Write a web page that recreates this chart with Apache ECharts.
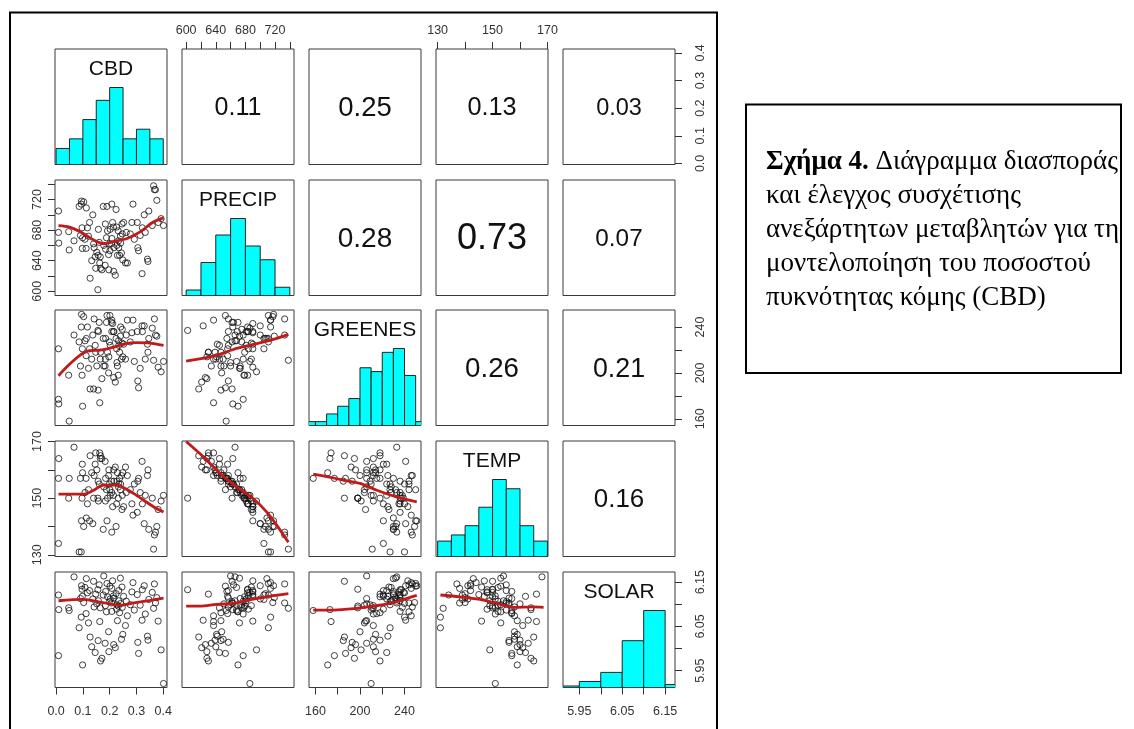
<!DOCTYPE html>
<html>
<head>
<meta charset="utf-8">
<script src="https://cdn.jsdelivr.net/npm/echarts@6/dist/echarts.min.js"></script>
<style>
html, body { margin: 0; padding: 0; background: #fff; }
#chart { width: 1134px; height: 729px; }
</style>
</head>
<body>
<div id="chart"></div>
<script>
// ---- observations (one entry per site) ----
const varNames = ['CBD', 'PRECIP', 'GREENES', 'TEMP', 'SOLAR'];

const cbd = [
  0.009, 0.009, 0.010, 0.047, 0.049,
  0.067, 0.086, 0.094, 0.091, 0.097, 0.099, 0.098, 0.095,
  0.103, 0.108, 0.112, 0.117, 0.121, 0.125, 0.127, 0.133, 0.137, 0.140, 0.142, 0.146, 0.148, 0.113,
  0.152, 0.157, 0.156, 0.158, 0.161, 0.163, 0.165, 0.166, 0.171, 0.176, 0.178, 0.184, 0.183, 0.185, 0.188, 0.190, 0.192, 0.196, 0.197, 0.199,
  0.201, 0.202, 0.207, 0.208, 0.208, 0.211, 0.214, 0.215, 0.216, 0.221, 0.224, 0.226, 0.227, 0.229, 0.232, 0.233, 0.234, 0.237, 0.240, 0.241, 0.244, 0.246, 0.247, 0.249,
  0.252, 0.259, 0.262, 0.266, 0.277, 0.283, 0.287, 0.292,
  0.303, 0.305, 0.308, 0.314, 0.321, 0.322, 0.329, 0.333, 0.341, 0.343, 0.346,
  0.359, 0.364, 0.367, 0.371, 0.376, 0.381, 0.392, 0.401
];
const precip = [
  705, 677, 663, 678, 654,
  666, 711, 714, 673, 683, 670, 656, 718,
  717, 668, 656, 683, 672, 690, 617, 640, 700, 662, 657, 645, 630, 709,
  651, 647, 602, 681, 664, 637, 645, 630, 628, 711, 660, 688, 634, 655, 670, 711, 679, 648, 628, 662,
  653, 681, 662, 669, 714, 690, 684, 626, 657, 621, 707, 684, 660, 647, 679, 666, 657, 647, 672, 663, 650, 688, 675, 641,
  690, 637, 677, 637, 675, 690, 714, 668,
  690, 657, 653, 673, 623, 683, 700, 677, 642, 639, 705,
  686, 738, 733, 733, 719, 690, 695, 686
];
const greenes = [
  221, 177, 173, 198, 158,
  233, 227, 240, 206, 198, 171, 221, 251,
  249, 228, 215, 240, 204, 221, 186, 212, 233, 186, 247, 224, 218, 230,
  206, 185, 237, 236, 244, 174, 212, 218, 195, 230, 206, 212, 206, 230, 244, 250, 218, 200, 214, 227,
  250, 224, 244, 236, 246, 243, 236, 196, 236, 192, 230, 221, 209, 206, 198, 228, 224, 218, 232, 240, 212, 226, 238, 214,
  225, 212, 233, 246, 227, 235, 246, 210,
  236, 193, 187, 204, 241, 236, 241, 212, 225, 218, 230,
  239, 211, 247, 233, 232, 205, 201, 210
];
const temp = [
  134, 157, 164, 150, 157,
  168, 131, 131, 157, 150, 159, 162, 142,
  140, 152, 157, 148, 153, 142, 165, 159, 141, 150, 158, 162, 166, 143,
  160, 156, 150, 149, 155, 166, 164, 165, 164, 139, 154, 149, 163, 157, 153, 142, 150, 158, 160, 155,
  153, 151, 156, 152, 138, 147, 151, 160, 156, 161, 140, 148, 156, 159, 150, 154, 155, 157, 153, 155, 158, 146, 151, 159,
  147, 161, 152, 158, 153, 148, 144, 155,
  145, 156, 157, 152, 163, 148, 141, 151, 158, 160, 139,
  150, 132, 137, 138, 140, 146, 149, 151
];
const solar = [
  6.121, 5.984, 6.088, 6.092, 6.086,
  6.162, 6.047, 6.071, 6.113, 6.134, 5.963, 6.118, 6.142,
  6.104, 6.138, 6.079, 6.126, 6.058, 6.131, 6.026, 6.004, 6.112, 6.152, 6.094, 5.991, 6.123, 6.158,
  6.101, 6.018, 6.133, 6.108, 6.144, 6.061, 6.092, 5.972, 5.978, 6.121, 6.164, 6.097, 6.012, 6.129, 6.083, 6.147, 6.117, 6.038, 5.993, 6.106,
  6.141, 6.112, 6.103, 6.084, 6.136, 6.153, 6.119, 6.009, 6.114, 6.002, 6.124, 6.089, 6.099, 6.063, 6.096, 6.108, 6.131, 6.081, 6.159, 6.102, 6.021, 6.139, 6.093, 6.032,
  6.118, 6.052, 6.107, 6.074, 6.099, 6.128, 6.149, 6.087,
  6.122, 6.014, 5.989, 6.098, 6.064, 6.133, 6.142, 6.078, 6.028, 6.019, 6.111,
  6.127, 6.091, 6.146, 6.103, 6.115, 6.062, 5.997, 5.921
];

// ---- histogram bins (breaks and counts) ----
const cbdBreaks = [0, 0.05, 0.10, 0.15, 0.20, 0.25, 0.30, 0.35, 0.40];
const cbdCounts = [5, 8, 14, 20, 24, 8, 11, 8];
const precipBreaks = [600, 620, 640, 660, 680, 700, 720, 740];
const precipCounts = [2, 12, 22, 28, 18, 13, 3];
const greenesBreaks = [150, 160, 170, 180, 190, 200, 210, 220, 230, 240, 250, 260];
const greenesCounts = [1, 1, 3, 5, 7, 15, 14, 19, 20, 13, 1];
const tempBreaks = [130, 135, 140, 145, 150, 155, 160, 165, 170];
const tempCounts = [5, 7, 10, 16, 25, 22, 10, 5];
const solarBreaks = [5.90, 5.95, 6.00, 6.05, 6.10, 6.15, 6.20];
const solarCounts = [1, 4, 10, 31, 51, 2];

// ---- absolute correlations shown in the upper panels (row, column, value) ----
const corrRows = [0, 0, 0, 0, 1, 1, 1, 2, 2, 3];
const corrCols = [1, 2, 3, 4, 2, 3, 4, 3, 4, 4];
const corrValues = ['0.11', '0.25', '0.13', '0.03', '0.28', '0.73', '0.07', '0.26', '0.21', '0.16'];

// ---- lowess smooths for the lower panels ([x, y]) ----
const loPrecipCbd = [[0.009, 686], [0.05, 684], [0.10, 676], [0.14, 667], [0.18, 662], [0.215, 665], [0.265, 669], [0.315, 678], [0.36, 690], [0.401, 696]];
const loGreenesCbd = [[0.009, 197.6], [0.052, 207.9], [0.096, 216.6], [0.125, 219.5], [0.165, 219.8], [0.215, 222.5], [0.26, 225.5], [0.30, 226.3], [0.35, 226], [0.401, 224]];
const loTempCbd = [[0.009, 151.4], [0.102, 151.4], [0.14, 152.8], [0.177, 154.6], [0.227, 154.6], [0.258, 153.4], [0.29, 151.6], [0.327, 149.3], [0.365, 146.9], [0.401, 145.1]];
const loSolarCbd = [[0.009, 6.108], [0.102, 6.111], [0.165, 6.105], [0.24, 6.098], [0.29, 6.103], [0.352, 6.109], [0.401, 6.114]];
const loGreenesPrecip = [[600, 210.2], [636.7, 214.6], [663.7, 220.4], [690.7, 224.8], [717.7, 229.2], [738, 233.6]];
const loTempPrecip = [[600, 170.0], [623.6, 164.5], [646.2, 158.6], [668.7, 153.9], [691.2, 149.7], [709.2, 145.0], [722.7, 140.3], [738, 134.4]];
const loSolarPrecip = [[600, 6.096], [618.7, 6.096], [641.3, 6.100], [663.7, 6.102], [681.7, 6.109], [708.7, 6.117], [738, 6.124]];
const loTempGreenes = [[158, 158.5], [171.4, 157.5], [185, 156.4], [200, 155.2], [215.1, 152.8], [233.1, 150.4], [251, 148.7]];
const loSolarGreenes = [[158, 6.087], [176.5, 6.087], [194.5, 6.090], [209.6, 6.095], [224.6, 6.101], [236.7, 6.109], [251, 6.120]];
const loSolarTemp = [[131, 6.121], [138.1, 6.117], [145.4, 6.111], [151.5, 6.102], [157.5, 6.093], [164.8, 6.094], [168.6, 6.093]];

// ---- axis ticks and tick labels ----
const cbdTicks = [0, 0.1, 0.2, 0.3, 0.4];
const cbdTickLabels = [0, 0.1, 0.2, 0.3, 0.4];
const precipTicks = [600, 620, 640, 660, 680, 700, 720, 740];
const precipTickLabels = [600, 640, 680, 720];
const greenesTicks = [160, 180, 200, 220, 240];
const greenesTickLabels = [160, 200, 240];
const tempTicks = [130, 140, 150, 160, 170];
const tempTickLabels = [130, 150, 170];
const solarTicks = [5.95, 6.00, 6.05, 6.10, 6.15];
const solarTickLabels = [5.95, 6.05, 6.15];

// ---- assembly ----
const vars = [cbd, precip, greenes, temp, solar];
const hists = [
  [cbdBreaks, cbdCounts], [precipBreaks, precipCounts], [greenesBreaks, greenesCounts],
  [tempBreaks, tempCounts], [solarBreaks, solarCounts]
];
const smooths = {
  '1-0': loPrecipCbd, '2-0': loGreenesCbd, '3-0': loTempCbd, '4-0': loSolarCbd,
  '2-1': loGreenesPrecip, '3-1': loTempPrecip, '4-1': loSolarPrecip,
  '3-2': loTempGreenes, '4-2': loSolarGreenes, '4-3': loSolarTemp
};
const ticks = [
  [cbdTicks, cbdTickLabels, 1], [precipTicks, precipTickLabels, 0], [greenesTicks, greenesTickLabels, 0],
  [tempTicks, tempTickLabels, 0], [solarTicks, solarTickLabels, 2]
];

// panel layout (pixels) and padded scale ranges per variable
const colLeft = [55, 182, 309, 436, 563];
const rowTop = [49, 180, 310, 441, 572];
const PW = 112, PH = 115.5;
const ranges = [[-0.004, 0.414], [594.4, 745.6], [154.2, 254.8], [129.4, 170.2], [5.912, 6.173]];

const FONT = '"Liberation Sans", Arial, sans-serif';
const AXIS_COLOR = '#333';

const grids = [], xAxes = [], yAxes = [], series = [], graphic = [];

for (let r = 0; r < 5; r++) {
  for (let c = 0; c < 5; c++) {
    const g = r * 5 + c;
    grids.push({
      left: colLeft[c], top: rowTop[r], width: PW, height: PH,
      show: true, borderColor: '#3a3a3a', borderWidth: 1, backgroundColor: '#fff'
    });
    xAxes.push({ type: 'value', gridIndex: g, min: ranges[c][0], max: ranges[c][1], show: false, axisLine: { onZero: false } });
    if (r === c) {
      const maxCount = Math.max(...hists[r][1]);
      yAxes.push({ type: 'value', gridIndex: g, min: 0, max: maxCount * 1.5, show: false, axisLine: { onZero: false } });
    } else {
      yAxes.push({ type: 'value', gridIndex: g, min: ranges[r][0], max: ranges[r][1], show: false, axisLine: { onZero: false } });
    }
  }
}
// extra right-hand scale for the last diagonal panel
yAxes.push({ type: 'value', gridIndex: 24, min: ranges[4][0], max: ranges[4][1], show: false, axisLine: { onZero: false } });

function labelAxis(axis, v, position) {
  const [tv, lv, dec] = ticks[v];
  const vertical = position === 'left' || position === 'right';
  const margins = { top: 12, bottom: 18, left: 11, right: 19 };
  Object.assign(axis, {
    show: true,
    position: position,
    axisLine: { show: false, onZero: false },
    splitLine: { show: false },
    axisTick: { show: true, length: 7, inside: false, customValues: tv, lineStyle: { color: AXIS_COLOR, width: 1 } },
    axisLabel: {
      show: true, customValues: lv, margin: margins[position], rotate: vertical ? 90 : 0,
      fontFamily: FONT, fontSize: 12.5, color: AXIS_COLOR,
      formatter: (val) => Number(val).toFixed(dec)
    }
  });
}
labelAxis(xAxes[0 * 5 + 1], 1, 'top');
labelAxis(xAxes[0 * 5 + 3], 3, 'top');
labelAxis(xAxes[4 * 5 + 0], 0, 'bottom');
labelAxis(xAxes[4 * 5 + 2], 2, 'bottom');
labelAxis(xAxes[4 * 5 + 4], 4, 'bottom');
labelAxis(yAxes[1 * 5 + 0], 1, 'left');
labelAxis(yAxes[3 * 5 + 0], 3, 'left');
labelAxis(yAxes[0 * 5 + 4], 0, 'right');
labelAxis(yAxes[2 * 5 + 4], 2, 'right');
labelAxis(yAxes[25], 4, 'right');

function histRender(params, api) {
  const top = api.coord([api.value(0), api.value(2)]);
  const bottom = api.coord([api.value(1), 0]);
  return {
    type: 'rect',
    shape: { x: top[0], y: top[1], width: bottom[0] - top[0], height: bottom[1] - top[1] },
    style: { fill: '#00ffff', stroke: '#222', lineWidth: 1 }
  };
}

for (let r = 0; r < 5; r++) {
  for (let c = 0; c < 5; c++) {
    const g = r * 5 + c;
    if (r === c) {
      const [br, ct] = hists[r];
      series.push({
        type: 'custom', xAxisIndex: g, yAxisIndex: g, clip: true,
        renderItem: histRender,
        encode: { x: [0, 1], y: 2 },
        data: ct.map((n, i) => [br[i], br[i + 1], n]),
        silent: true
      });
    } else if (r > c) {
      series.push({
        type: 'scatter', xAxisIndex: g, yAxisIndex: g,
        symbol: 'circle', symbolSize: 6.2,
        itemStyle: { color: 'rgba(255,255,255,0)', borderColor: '#111', borderWidth: 1 },
        data: vars[c].map((x, i) => [x, vars[r][i]]),
        silent: true, z: 2
      });
      series.push({
        type: 'line', xAxisIndex: g, yAxisIndex: g,
        data: smooths[r + '-' + c], showSymbol: false, symbol: 'none',
        smooth: 0.3,
        lineStyle: { color: '#c01a1a', width: 2.8 },
        silent: true, z: 3
      });
    }
  }
}

// variable names on the diagonal
for (let i = 0; i < 5; i++) {
  graphic.push({
    type: 'text', silent: true, z: 10,
    style: {
      text: varNames[i], x: colLeft[i] + PW / 2, y: rowTop[i] + 20.5,
      align: 'center', verticalAlign: 'middle',
      font: '21px ' + FONT, fill: '#111'
    }
  });
}
// correlation coefficients in the upper panels
corrValues.forEach((txt, k) => {
  const r = corrRows[k], c = corrCols[k];
  const size = 23 + 18 * parseFloat(txt);
  graphic.push({
    type: 'text', silent: true, z: 10,
    style: {
      text: txt, x: colLeft[c] + PW / 2, y: rowTop[r] + PH / 2 + 1.5,
      align: 'center', verticalAlign: 'middle',
      font: size.toFixed(1) + 'px ' + FONT, fill: '#111'
    }
  });
});

// outer frame around the matrix
graphic.push({
  type: 'rect', silent: true, z: 20,
  shape: { x: 10, y: 12.5, width: 707, height: 740 },
  style: { fill: 'none', stroke: '#000', lineWidth: 2 }
});
// caption box
graphic.push({
  type: 'rect', silent: true, z: 20,
  shape: { x: 746, y: 104.5, width: 375, height: 268.5 },
  style: { fill: 'none', stroke: '#000', lineWidth: 2 }
});
graphic.push({
  type: 'text', silent: true, z: 21,
  style: {
    x: 766, y: 145,
    text: '{b|Σχήμα 4.} Διάγραμμα διασποράς\nκαι έλεγχος συσχέτισης\nανεξάρτητων μεταβλητών για τη\nμοντελοποίηση του ποσοστού\nπυκνότητας κόμης (CBD)',
    font: '27px "Liberation Serif", "Times New Roman", serif',
    lineHeight: 34, fill: '#000', align: 'left', verticalAlign: 'top',
    rich: {
      b: { fontWeight: 'bold', fontSize: 27, fontFamily: '"Liberation Serif", serif', lineHeight: 34 }
    }
  }
});

const chart = echarts.init(document.getElementById('chart'), null, { renderer: 'canvas' });
chart.setOption({
  animation: false,
  backgroundColor: '#fff',
  grid: grids,
  xAxis: xAxes,
  yAxis: yAxes,
  series: series,
  graphic: graphic
});
</script>
</body>
</html>
